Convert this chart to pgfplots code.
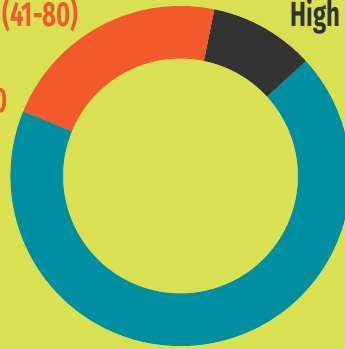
\documentclass[border=0pt]{standalone}
\usepackage{pgfplots}
\pgfplotsset{compat=1.18}
\usepackage{pgfplotstable}
\usepackage{fontspec}
\newfontfamily\labelfont[FakeStretch=0.69]{Fira Sans}
\definecolor{bgc}{HTML}{D9E152}
\definecolor{tealc}{HTML}{008FA0}
\definecolor{orangec}{HTML}{F25A2B}
\definecolor{darkc}{HTML}{333333}
\pgfplotstableread{
label value
High 10
Medium 22
Low 68
}\donutdata
\pgfplotstablegetelem{0}{value}\of\donutdata \let\vHigh\pgfplotsretval
\pgfplotstablegetelem{1}{value}\of\donutdata \let\vMed\pgfplotsretval
\pgfplotstablegetelem{2}{value}\of\donutdata \let\vLow\pgfplotsretval
\pgfmathsetmacro\aA{42.5}
\pgfmathsetmacro\aB{\aA+3.6*\vHigh}
\pgfmathsetmacro\aC{\aB+3.6*\vMed}
\pgfmathsetmacro\aD{\aC+3.6*\vLow}
\def\cx{180.5}
\def\cy{173}
\def\Ro{170}
\def\Ri{117.5}
\begin{document}
\begin{tikzpicture}
\useasboundingbox (0,0) rectangle (345bp,349bp);
\clip (0,0) rectangle (345bp,349bp);
\fill[bgc] (0,0) rectangle (345bp,349bp);
\begin{axis}[
  at={(0,0)}, anchor=south west,
  width=345bp, height=349bp, scale only axis,
  xmin=0, xmax=345, ymin=0, ymax=349,
  axis lines=none, ticks=none, clip=false,
]
\addplot[draw=none] coordinates {(0,0) (345,349)};
\fill[darkc] ({\cx+\Ro*cos(\aA)},{\cy+\Ro*sin(\aA)}) arc[start angle=\aA,end angle=\aB,radius=\Ro] -- ({\cx+\Ri*cos(\aB)},{\cy+\Ri*sin(\aB)}) arc[start angle=\aB,end angle=\aA,radius=\Ri] -- cycle;
\fill[orangec] ({\cx+\Ro*cos(\aB)},{\cy+\Ro*sin(\aB)}) arc[start angle=\aB,end angle=\aC,radius=\Ro] -- ({\cx+\Ri*cos(\aC)},{\cy+\Ri*sin(\aC)}) arc[start angle=\aC,end angle=\aB,radius=\Ri] -- cycle;
\fill[tealc] ({\cx+\Ro*cos(\aC)},{\cy+\Ro*sin(\aC)}) arc[start angle=\aC,end angle=\aD,radius=\Ro] -- ({\cx+\Ri*cos(\aD)},{\cy+\Ri*sin(\aD)}) arc[start angle=\aD,end angle=\aC,radius=\Ri] -- cycle;
\node[anchor=base east, text=orangec, font=\labelfont\bfseries\fontsize{35}{40}\selectfont, inner sep=0pt] at (axis cs:79,322) {(41-80)};
\node[anchor=base west, text=darkc, font=\labelfont\bfseries\fontsize{35}{40}\selectfont, inner sep=0pt] at (axis cs:290,322) {High};
\node[anchor=base east, text=orangec, font=\labelfont\bfseries\fontsize{35}{40}\selectfont, inner sep=0pt] at (axis cs:7.5,236) {0-40};
\end{axis}
\end{tikzpicture}
\end{document}
